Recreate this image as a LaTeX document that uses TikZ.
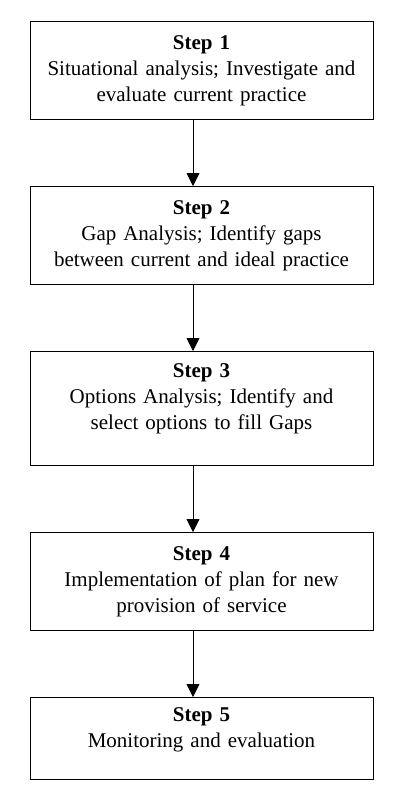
\documentclass[tikz,border=0pt]{standalone}
\usepackage{fontspec}
\setmainfont{Liberation Serif}
\usepackage{tikz}
\usetikzlibrary{positioning}
\usetikzlibrary{arrows.meta}

\begin{document}
\begin{tikzpicture}[x=1pt, y=-1pt,
 stepbox/.style={draw, line width=1pt, minimum width=343pt, text width=335pt, align=center, inner sep=0pt, font=\fontsize{21}{26}\selectfont},
 flowarrow/.style={line width=0.9pt, -{Triangle[length=13pt, width=13pt]}}]

\useasboundingbox (0,0) rectangle (400,800);

\node[stepbox, minimum height=98pt, anchor=north] (s1) at (201.5,21)
{\textbf{Step 1}\\Situational analysis; Investigate and\\evaluate current practice};
\node[stepbox, minimum height=98pt, below=66pt of s1] (s2)
{\textbf{Step 2}\\Gap Analysis; Identify gaps\\between current and ideal practice};
\node[stepbox, minimum height=114pt, below=66pt of s2] (s3)
{\textbf{Step 3}\\Options Analysis; Identify and\\select options to fill Gaps\rule[-24pt]{0pt}{0pt}};
\node[stepbox, minimum height=98pt, below=66pt of s3] (s4)
{\textbf{Step 4}\\Implementation of plan for new\\provision of service};
\node[stepbox, minimum height=82pt, below=66pt of s4] (s5)
{\textbf{Step 5}\\Monitoring and evaluation\rule[-21pt]{0pt}{0pt}};

%\draw[red] (0,0) grid (400,800);

\draw[flowarrow] ([xshift=-8.5pt]s1.south) -- ([xshift=-8.5pt]s2.north);
\draw[flowarrow] ([xshift=-8.5pt]s2.south) -- ([xshift=-8.5pt]s3.north);
\draw[flowarrow] ([xshift=-8.5pt]s3.south) -- ([xshift=-8.5pt]s4.north);
\draw[flowarrow] ([xshift=-8.5pt]s4.south) -- ([xshift=-8.5pt]s5.north);

\end{tikzpicture}
\end{document}
